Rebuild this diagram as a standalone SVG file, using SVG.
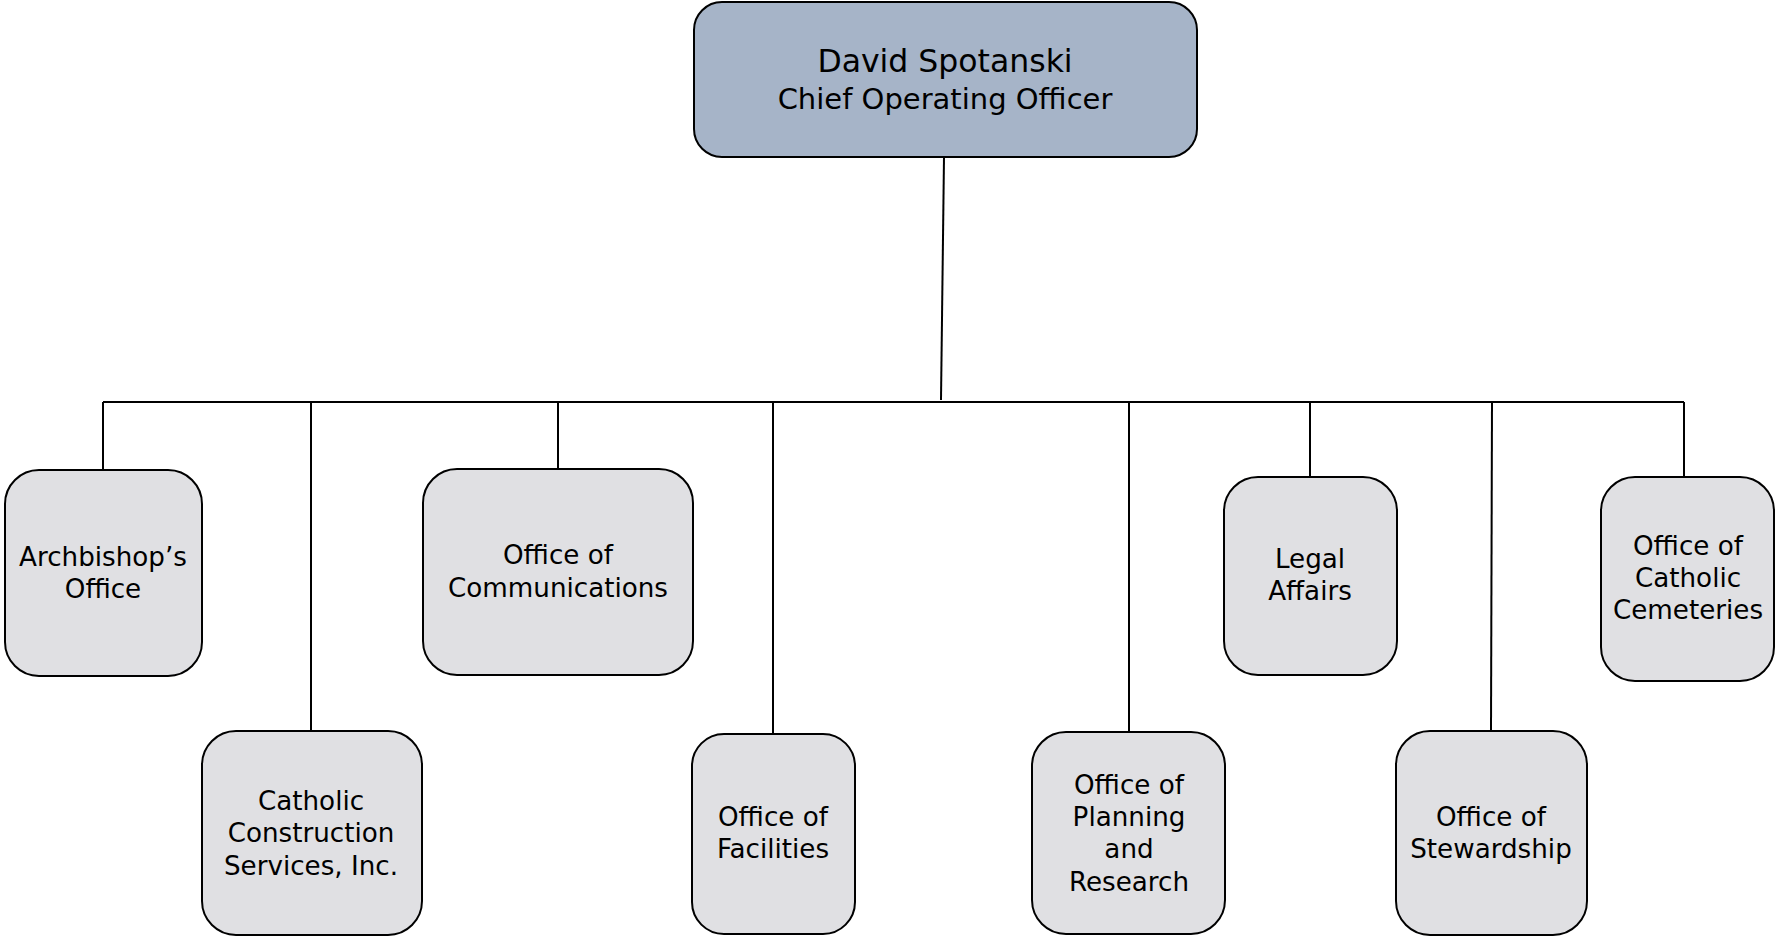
<svg xmlns="http://www.w3.org/2000/svg" width="1775" height="937" viewBox="0 0 1775 937">
<style>
.node rect{fill:#e0e0e3;stroke:#000;stroke-width:2}
#coo rect{fill:#a6b4c8;stroke:#000;stroke-width:2}
text{font-family:"DejaVu Sans","Liberation Sans",sans-serif;fill:#000;text-anchor:middle}
.t{font-size:26.2px}
#connectors line{stroke:#000;stroke-width:2;fill:none}
</style>
<rect width="1775" height="937" fill="#fff"/>
<g id="connectors">
<line x1="944" y1="157" x2="941" y2="400"/>
<line x1="103" y1="402" x2="1684" y2="402"/>
<line x1="103" y1="402" x2="103" y2="470"/>
<line x1="311" y1="402" x2="311" y2="731"/>
<line x1="558" y1="402" x2="558" y2="469"/>
<line x1="773" y1="402" x2="773" y2="734"/>
<line x1="1129" y1="402" x2="1129" y2="732"/>
<line x1="1310" y1="402" x2="1310" y2="477"/>
<line x1="1492" y1="402" x2="1491" y2="731"/>
<line x1="1684" y1="402" x2="1684" y2="477"/>
</g>
<g id="coo">
<rect x="694" y="2" width="503" height="155" rx="28"/>
<text x="945" y="72" font-size="31.5">David Spotanski</text>
<text x="945" y="109" font-size="29">Chief Operating Officer</text>
</g>
<g id="archbishop" class="node">
<rect x="5" y="470" width="197" height="206" rx="34"/>
<text class="t" x="103" y="566">Archbishop’s</text>
<text class="t" x="103" y="598">Office</text>
</g>
<g id="construction" class="node">
<rect x="202" y="731" width="220" height="204" rx="34"/>
<text class="t" x="311" y="810">Catholic</text>
<text class="t" x="311" y="842">Construction</text>
<text class="t" x="311" y="875">Services, Inc.</text>
</g>
<g id="communications" class="node">
<rect x="423" y="469" width="270" height="206" rx="34"/>
<text class="t" x="558" y="564">Office of</text>
<text class="t" x="558" y="597">Communications</text>
</g>
<g id="facilities" class="node">
<rect x="692" y="734" width="163" height="200" rx="32"/>
<text class="t" x="773" y="826">Office of</text>
<text class="t" x="773" y="858">Facilities</text>
</g>
<g id="planning" class="node">
<rect x="1032" y="732" width="193" height="202" rx="34"/>
<text class="t" x="1129" y="794">Office of</text>
<text class="t" x="1129" y="826">Planning</text>
<text class="t" x="1129" y="858">and</text>
<text class="t" x="1129" y="891">Research</text>
</g>
<g id="legal" class="node">
<rect x="1224" y="477" width="173" height="198" rx="34"/>
<text class="t" x="1310" y="568">Legal</text>
<text class="t" x="1310" y="600">Affairs</text>
</g>
<g id="stewardship" class="node">
<rect x="1396" y="731" width="191" height="204" rx="34"/>
<text class="t" x="1491" y="826">Office of</text>
<text class="t" x="1491" y="858">Stewardship</text>
</g>
<g id="cemeteries" class="node">
<rect x="1601" y="477" width="173" height="204" rx="34"/>
<text class="t" x="1688" y="555">Office of</text>
<text class="t" x="1688" y="587">Catholic</text>
<text class="t" x="1688" y="619">Cemeteries</text>
</g>
</svg>
